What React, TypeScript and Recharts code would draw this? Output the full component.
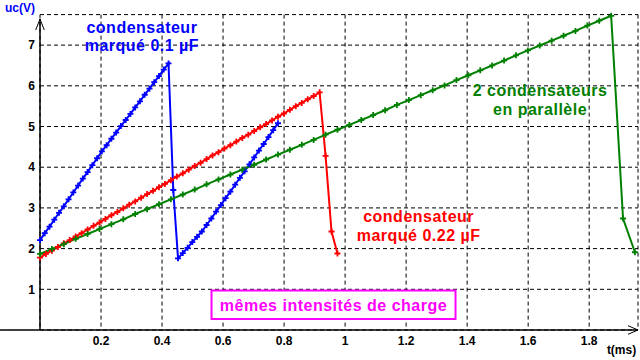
import { LineChart, Line, XAxis, YAxis, CartesianGrid, ReferenceLine, ReferenceDot } from 'recharts';

// sample times (ms) and voltages (V)
const blueT = [
  0, 0.0156, 0.0312, 0.0468, 0.0624, 0.078, 0.0936, 0.1092, 0.1248, 0.1404, 0.156, 0.1716, 0.1872,
  0.2028, 0.2184, 0.234, 0.2496, 0.2652, 0.2808, 0.2964, 0.312, 0.3276, 0.3432, 0.3588, 0.3744, 0.39,
  0.4056, 0.4212, 0.4368, 0.4524, 0.468, 0.4836, 0.4992, 0.5148, 0.5304, 0.546, 0.5616, 0.5772, 0.5928,
  0.6084, 0.624, 0.6396, 0.6552, 0.6708, 0.6864, 0.702, 0.7176, 0.7332, 0.7488, 0.7644, 0.78,
];
const blueV = [
  2.21, 2.38, 2.54, 2.71, 2.88, 3.04, 3.21, 3.38, 3.55, 3.72, 3.88, 4.05, 4.22, 4.39, 4.54, 4.7, 4.85,
  5.01, 5.16, 5.31, 5.47, 5.62, 5.78, 5.93, 6.09, 6.24, 6.4, 6.55, 3.44, 1.76, 1.89, 2.02, 2.16, 2.29,
  2.42, 2.58, 2.74, 2.91, 3.07, 3.24, 3.4, 3.57, 3.74, 3.9, 4.07, 4.24, 4.41, 4.57, 4.74, 4.91, 5.08,
];

const redT = [
  0, 0.0195, 0.039, 0.0585, 0.078, 0.0975, 0.117, 0.1365, 0.156, 0.1755, 0.195, 0.2145, 0.234, 0.2535,
  0.273, 0.2925, 0.312, 0.3315, 0.351, 0.3705, 0.39, 0.4095, 0.429, 0.4485, 0.468, 0.4875, 0.507, 0.5265,
  0.546, 0.5655, 0.585, 0.6045, 0.624, 0.6435, 0.663, 0.6825, 0.702, 0.7215, 0.741, 0.7605, 0.78, 0.7995,
  0.819, 0.8385, 0.858, 0.8775, 0.897, 0.9165, 0.936, 0.9555, 0.975,
];
const redV = [
  1.78, 1.87, 1.95, 2.04, 2.13, 2.21, 2.3, 2.38, 2.47, 2.56, 2.64, 2.73, 2.82, 2.9, 2.99, 3.08, 3.16,
  3.25, 3.34, 3.42, 3.51, 3.59, 3.68, 3.77, 3.85, 3.94, 4.03, 4.11, 4.2, 4.29, 4.37, 4.46, 4.54, 4.63,
  4.72, 4.8, 4.89, 4.98, 5.06, 5.15, 5.24, 5.32, 5.41, 5.5, 5.58, 5.67, 5.75, 5.84, 4.28, 2.42, 1.88,
];

const greenT = [
  0, 0.039, 0.078, 0.117, 0.156, 0.195, 0.234, 0.273, 0.312, 0.351, 0.39, 0.429, 0.468, 0.507, 0.546,
  0.585, 0.624, 0.663, 0.702, 0.741, 0.78, 0.819, 0.858, 0.897, 0.936, 0.975, 1.014, 1.053, 1.092, 1.131,
  1.17, 1.209, 1.248, 1.287, 1.326, 1.365, 1.404, 1.443, 1.482, 1.521, 1.56, 1.599, 1.638, 1.677, 1.716,
  1.755, 1.794, 1.833, 1.872, 1.911, 1.95,
];
const greenV = [
  1.87, 1.99, 2.11, 2.24, 2.36, 2.48, 2.6, 2.72, 2.85, 2.97, 3.09, 3.21, 3.33, 3.45, 3.58, 3.7, 3.82,
  3.94, 4.06, 4.19, 4.31, 4.43, 4.55, 4.67, 4.8, 4.92, 5.04, 5.16, 5.28, 5.4, 5.53, 5.65, 5.77, 5.89,
  6.01, 6.14, 6.26, 6.38, 6.5, 6.62, 6.75, 6.87, 6.99, 7.11, 7.23, 7.35, 7.48, 7.6, 7.72, 2.74, 1.91,
];

const xTicks = [0.2, 0.4, 0.6, 0.8, 1, 1.2, 1.4, 1.6, 1.8];
const yTicks = [1, 2, 3, 4, 5, 6, 7];

const BLUE = '#0000ff';
const RED = '#ff0000';
const GREEN = '#008000';
const MAGENTA = '#ff00ff';
const FONT = '"Liberation Sans", Arial, sans-serif';

const toRows = (t: number[], v: number[]) => t.map((x, i) => ({ t: x, v: v[i] }));

// small "+" marker at each acquired point
const cross = (color: string) => (props: any) => {
  const { cx, cy, index } = props;
  if (cx == null || cy == null) return <g key={`m-${index}`} />;
  return (
    <path
      key={`m-${index}`}
      d={`M${cx - 3},${cy}H${cx + 3}M${cx},${cy - 3}V${cy + 3}`}
      stroke={color}
      strokeWidth={1.8}
      fill="none"
    />
  );
};

const textShape =
  (lines: string[], color: string, opts: { size?: number; anchor?: string; gap?: number; box?: boolean } = {}) =>
  (props: any) => {
    const { cx, cy } = props;
    const size = opts.size ?? 16;
    const gap = opts.gap ?? 18;
    return (
      <g>
        {opts.box && (
          <rect x={cx - 122} y={cy - 14.5} width={244} height={28.5} fill="#fff" stroke={color} strokeWidth={2} />
        )}
        {lines.map((s, i) => (
          <text
            key={i}
            x={cx}
            y={opts.box ? cy + 5.5 : cy + i * gap}
            fill={color}
            fontFamily={FONT}
            fontWeight="bold"
            fontSize={size}
            letterSpacing={size > 12 ? 0.5 : 0}
            textAnchor={(opts.anchor as any) ?? 'middle'}
          >
            {s}
          </text>
        ))}
      </g>
    );
  };

const tickStyle = { fontFamily: FONT, fontWeight: 'bold' as const, fontSize: 12, fill: '#000' };

export default function App() {
  return (
    <div style={{ position: 'absolute', left: 0, top: 0, width: 640, height: 360, background: '#fff' }}>
      <LineChart width={640} height={360} margin={{ top: 14.6, right: 2, bottom: 0, left: 0 }}>
        <CartesianGrid stroke="#000" strokeDasharray="4 3" />
        <XAxis
          type="number"
          dataKey="t"
          domain={[0, 1.96]}
          ticks={xTicks}
          height={30}
          axisLine={false}
          tickLine={false}
          tickSize={0}
          tickMargin={6}
          tick={tickStyle}
        />
        <YAxis
          type="number"
          domain={[0, 7.75]}
          ticks={yTicks}
          width={40}
          axisLine={false}
          tickLine={false}
          tickSize={0}
          tickMargin={5}
          tick={tickStyle}
        />
        <ReferenceLine segment={[{ x: -0.131, y: 0 }, { x: 1.96, y: 0 }]} stroke="#000" strokeWidth={1.5} ifOverflow="visible" />
        <ReferenceLine segment={[{ x: 0, y: 0 }, { x: 0, y: 7.64 }]} stroke="#000" strokeWidth={1.5} ifOverflow="visible" />
        <ReferenceDot
          x={0}
          y={7.64}
          ifOverflow="visible"
          shape={(p: any) => (
            <path d={`M${p.cx - 4.3},${p.cy + 11}L${p.cx},${p.cy}L${p.cx + 4.3},${p.cy + 11}`} stroke="#000" fill="none" />
          )}
        />
        <ReferenceDot
          x={1.96}
          y={0}
          ifOverflow="visible"
          shape={(p: any) => (
            <path d={`M${p.cx - 10},${p.cy - 4.3}L${p.cx},${p.cy}L${p.cx - 10},${p.cy + 4.3}`} stroke="#000" fill="none" />
          )}
        />
        <Line data={toRows(blueT, blueV)} dataKey="v" type="linear" stroke={BLUE} strokeWidth={2} dot={cross(BLUE)} isAnimationActive={false} />
        <Line data={toRows(redT, redV)} dataKey="v" type="linear" stroke={RED} strokeWidth={2} dot={cross(RED)} isAnimationActive={false} />
        <Line data={toRows(greenT, greenV)} dataKey="v" type="linear" stroke={GREEN} strokeWidth={2} dot={cross(GREEN)} isAnimationActive={false} />

        <ReferenceDot x={0.334} y={7.29} ifOverflow="visible" shape={textShape(['condensateur', 'marqué 0.1 µF'], BLUE)} />
        <ReferenceDot x={1.241} y={2.65} ifOverflow="visible" shape={textShape(['condensateur', 'marqué 0.22 µF'], RED, { gap: 19 })} />
        <ReferenceDot x={1.639} y={5.75} ifOverflow="visible" shape={textShape(['2 condensateurs', 'en parallèle'], GREEN, { gap: 19 })} />
        <ReferenceDot x={0.962} y={0.614} ifOverflow="visible" shape={textShape(['mêmes intensités de charge'], MAGENTA, { box: true })} />
        <ReferenceDot x={-0.1147} y={7.81} ifOverflow="visible" shape={textShape(['uc(V)'], BLUE, { size: 12, anchor: 'start' })} />
        <ReferenceDot x={1.858} y={-0.59} ifOverflow="visible" shape={textShape(['t(ms)'], '#000', { size: 12, anchor: 'start' })} />
      </LineChart>
    </div>
  );
}
